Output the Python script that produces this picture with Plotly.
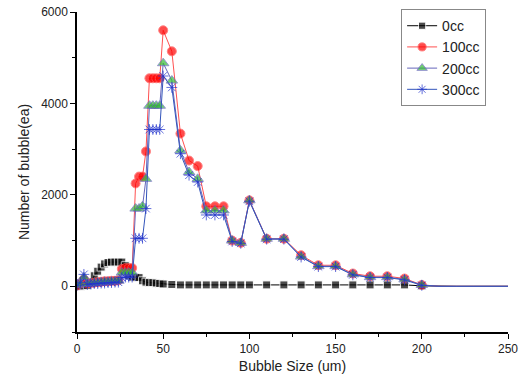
import plotly.graph_objects as go

# Bubble size (um)
x_size = [0, 2, 4, 6, 8, 10, 12, 14, 16, 18, 20, 22, 24, 26, 28, 30, 32, 34, 36, 38, 40,
          42, 44, 46, 48, 50, 55, 60, 65, 70, 75, 80, 85, 90, 95, 100,
          110, 120, 130, 140, 150, 160, 170, 180, 190, 200,
          210, 220, 230, 240, 250]

cc0 = [0, 0, 10, 20, 80, 230, 330, 420, 490, 520, 530, 530, 530, 530, 450, 230, 200, 200, 190, 120, 90,
       80, 80, 70, 60, 50, 40, 30, 30, 30, 30, 30, 30, 30, 30, 30,
       30, 30, 30, 30, 30, 30, 30, 30, 30, 10,
       0, 0, 0, 0, 0]

cc100 = [20, 60, 150, 60, 70, 80, 90, 100, 110, 110, 120, 120, 130, 380, 400, 400, 400, 2250, 2400, 2400, 2950,
         4550, 4550, 4550, 4550, 5600, 5140, 3340, 2750, 2630, 1750, 1750, 1750, 1000, 950, 1880,
         1040, 1040, 680, 460, 460, 280, 220, 220, 170, 30,
         0, 0, 0, 0, 0]

cc200 = [20, 60, 200, 50, 60, 70, 80, 90, 100, 100, 110, 110, 120, 300, 300, 300, 300, 1700, 1700, 1750, 2350,
         3950, 3950, 3950, 3950, 4880, 4500, 2970, 2500, 2350, 1660, 1660, 1660, 1000, 950, 1880,
         1040, 1040, 650, 440, 440, 260, 200, 200, 150, 30,
         0, 0, 0, 0, 0]

cc300 = [20, 80, 260, 40, 50, 60, 60, 70, 70, 80, 80, 90, 90, 190, 200, 200, 200, 1050, 1050, 1050, 1700,
         3430, 3430, 3430, 3430, 4600, 4350, 2900, 2430, 2280, 1560, 1560, 1560, 980, 940, 1860,
         1030, 1030, 640, 430, 430, 250, 190, 190, 140, 20,
         0, 0, 0, 0, 0]

names = ["0cc", "100cc", "200cc", "300cc"]
series = [cc0, cc100, cc200, cc300]

n_marked = sum(1 for v in x_size if v <= 200)

def sizes(s):
    return [s] * n_marked + [0] * (len(x_size) - n_marked)

styles = [
    dict(line=dict(color="black", width=1),
         marker=dict(symbol="square", color="black", size=sizes(8))),
    dict(line=dict(color="#ff5050", width=1),
         marker=dict(symbol="circle", color="#ff0000", size=sizes(9))),
    dict(line=dict(color="#6666bb", width=1),
         marker=dict(symbol="triangle-up", color="#33bb33", size=sizes(10))),
    dict(line=dict(color="#3355bb", width=1),
         marker=dict(symbol="asterisk-open", color="#2233cc", size=sizes(9),
                     line=dict(color="#2233cc", width=1))),
]

fig = go.Figure()
for name, vals, st in zip(names, series, styles):
    fig.add_trace(go.Scatter(x=x_size, y=vals, mode="lines+markers", name=name, **st))

fig.update_layout(
    width=523, height=382,
    margin=dict(l=77, r=15, t=12, b=50, autoexpand=False),
    paper_bgcolor="white", plot_bgcolor="white",
    font=dict(family="Arial, Liberation Sans, sans-serif", size=12, color="#222"),
    showlegend=True,
    legend=dict(x=0.752, y=1.009, xanchor="left", yanchor="top",
                bordercolor="#888", borderwidth=1, bgcolor="white",
                font=dict(size=14, color="#222"), tracegroupgap=0,
                itemwidth=30),
)
fig.update_xaxes(range=[0, 250], tickvals=[0, 50, 100, 150, 200, 250], automargin=False,
                 ticks="outside", ticklen=5, tickwidth=1, tickcolor="black",
                 minor=dict(tickvals=[25, 75, 125, 175, 225], ticks="outside", ticklen=3, tickcolor="black"),
                 showline=True, linecolor="black", linewidth=1.5, showgrid=False, zeroline=False,
                 title=dict(text="Bubble Size (um)", font=dict(size=14), standoff=6))
fig.update_yaxes(range=[-1000, 6000], tickvals=[0, 2000, 4000, 6000], automargin=False,
                 ticks="outside", ticklen=5, tickwidth=1, tickcolor="black",
                 minor=dict(tickvals=[-1000, 1000, 3000, 5000], ticks="outside", ticklen=3, tickcolor="black"),
                 showline=True, linecolor="black", linewidth=1.5, showgrid=False, zeroline=False,
                 title=dict(text="Number of bubble(ea)", font=dict(size=14), standoff=8))

fig.write_html("out.html", config={"displayModeBar": False},
               post_script="document.body.style.margin='0';")
